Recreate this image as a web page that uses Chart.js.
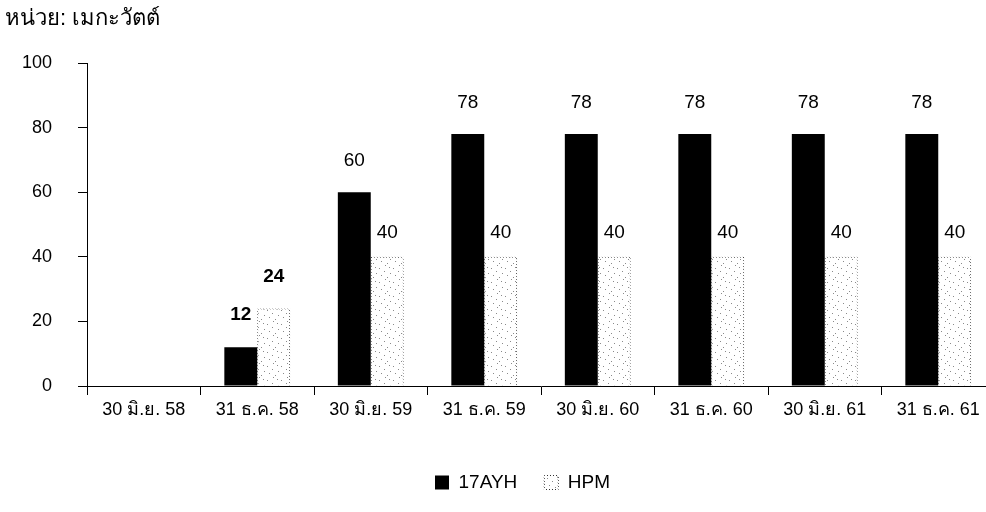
<!DOCTYPE html>
<html>
<head>
<meta charset="utf-8">
<script src="https://cdn.jsdelivr.net/npm/chart.js@4/dist/chart.umd.min.js"></script>
<style>
  html, body { margin: 0; padding: 0; background: #fff; overflow: hidden; }
  #wrap { width: 996px; height: 512px; }
</style>
</head>
<body>
<div id="wrap"><canvas id="chart"></canvas></div>
<script>
const unitTitle = "หน่วย: เมกะวัตต์";
const periods = ["30 มิ.ย. 58", "31 ธ.ค. 58", "30 มิ.ย. 59", "31 ธ.ค. 59", "30 มิ.ย. 60", "31 ธ.ค. 60", "30 มิ.ย. 61", "31 ธ.ค. 61"];
const ayhValues = [0, 12, 60, 78, 78, 78, 78, 78];
const hpmValues = [0, 24, 40, 40, 40, 40, 40, 40];
const yTicks = [0, 20, 40, 60, 80, 100];

const FONT = "'Liberation Sans', Arial, sans-serif";

// speckled fill for HPM
const makeSpeckle = () => {
    const c = document.createElement("canvas");
    c.width = 14; c.height = 14;
    const g = c.getContext("2d");
    g.fillStyle = "#fff";
    g.fillRect(0, 0, 14, 14);
    g.fillStyle = "#8a8a8a";
    [[1, 2], [6, 5], [11, 1], [3, 9], [9, 11], [12, 7], [7, 13]].forEach(([x, y]) => g.fillRect(x, y, 1, 1));
    return g.createPattern(c, "repeat");
};

// dotted edge
const makeDots = () => {
    const c = document.createElement("canvas");
    c.width = 3; c.height = 3;
    const g = c.getContext("2d");
    g.fillStyle = "#fff";
    g.fillRect(0, 0, 3, 3);
    g.fillStyle = "#333";
    g.fillRect(0, 0, 1, 1);
    g.fillRect(1, 1, 1, 1);
    g.fillRect(2, 2, 1, 1);
    return g.createPattern(c, "repeat");
};

const unitLabel = {
    id: "unitLabel",
    afterLayout(chart) {
        // legend sits a little right of centre in the original
        chart.legend.left += 20;
        chart.legend.right += 20;
    },
    afterDraw(chart) {
        const ctx = chart.ctx;
        ctx.save();
        ctx.font = "22px " + FONT;
        ctx.fillStyle = "#000";
        ctx.textBaseline = "middle";
        ctx.textAlign = "left";
        ctx.fillText(unitTitle, 5, 19);
        ctx.restore();
    }
};

const valueLabels = {
    id: "valueLabels",
    afterDatasetsDraw(chart) {
        const ctx = chart.ctx;
        ctx.save();
        ctx.fillStyle = "#000";
        ctx.textAlign = "center";
        ctx.textBaseline = "middle";
        chart.data.datasets.forEach((ds, i) => {
            const meta = chart.getDatasetMeta(i);
            meta.data.forEach((bar, j) => {
                const v = ds.data[j];
                if (!v) return;
                const small = v < 30;
                ctx.font = (small ? "bold " : "") + "19px " + FONT;
                const gap = small ? 32 : (i === 0 ? 31 : 24);
                ctx.fillText(String(v), bar.x, bar.y - gap);
            });
        });
        ctx.restore();
    }
};

const context = document.getElementById("chart").getContext("2d");
const chart = new Chart(context, {
    type: "bar",
    data: {
        labels: periods,
        datasets: [{
            label: "17AYH",
            data: ayhValues,
            backgroundColor: "#000",
            borderColor: "#000",
            borderWidth: 0
        }, {
            label: "HPM",
            data: hpmValues,
            backgroundColor: makeSpeckle(),
            borderColor: makeDots(),
            borderWidth: 1
        }]
    },
    options: {
        responsive: true,
        maintainAspectRatio: false,
        animation: false,
        devicePixelRatio: 1,
        layout: { padding: { left: 10, right: 1, top: 63, bottom: 10 } },
        datasets: { bar: { barPercentage: 1, categoryPercentage: 0.58 } },
        scales: {
            x: {
                grid: { display: true, drawOnChartArea: false, color: "#000", tickLength: 9, offset: true },
                border: { display: true, color: "#000", width: 1 },
                ticks: { color: "#000", padding: 4, maxRotation: 0, font: { family: FONT, size: 18 } },
                afterFit: (scale) => { scale.height = 60; }
            },
            y: {
                min: 0,
                max: 100,
                afterBuildTicks: (scale) => { scale.ticks = yTicks.map((v) => ({ value: v })); },
                grid: { display: true, drawOnChartArea: false, color: "#000", tickLength: 9 },
                border: { display: true, color: "#000", width: 1 },
                ticks: { color: "#000", padding: 26, font: { family: FONT, size: 18 } },
                afterFit: (scale) => { scale.width = 77; }
            }
        },
        plugins: {
            legend: {
                position: "bottom",
                labels: {
                    color: "#000",
                    boxWidth: 14,
                    boxHeight: 14,
                    padding: 27,
                    font: { family: FONT, size: 19 }
                }
            },
            title: { display: false },
            tooltip: { enabled: false }
        }
    },
    plugins: [unitLabel, valueLabels]
});
</script>
</body>
</html>
